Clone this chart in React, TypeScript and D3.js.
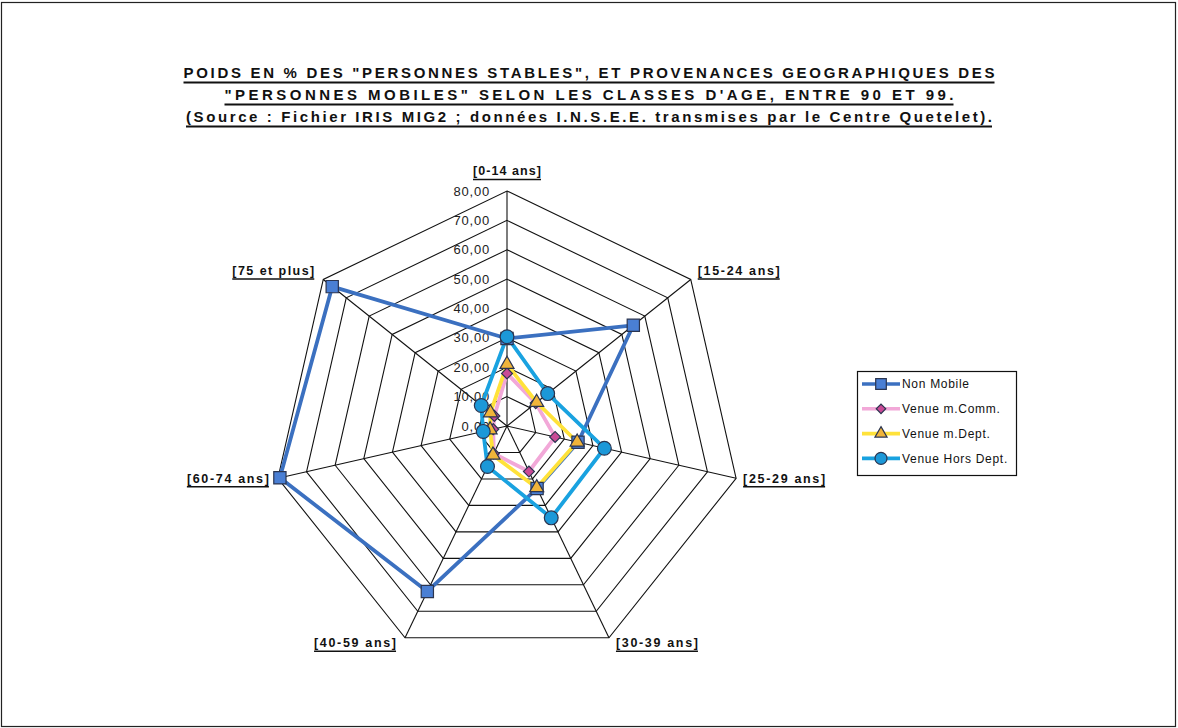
import * as d3 from 'd3';

const CATEGORIES = ['[0-14 ans]', '[15-24 ans]', '[25-29 ans]', '[30-39 ans]', '[40-59 ans]', '[60-74 ans]', '[75 et plus]'];
const NON_MOBILE = [29.8, 55.0, 24.8, 23.6, 62.5, 79.3, 76.1];
const VENUE_COMM = [17.9, 12.5, 16.8, 17.2, 10.4, 4.8, 5.5];
const VENUE_DEPT = [21.0, 12.9, 24.5, 23.3, 11.0, 5.9, 7.2];
const VENUE_HORS = [30.4, 17.7, 34.0, 34.7, 15.3, 8.3, 11.2];
const TICKS = [0, 10, 20, 30, 40, 50, 60, 70, 80];

const TITLE = [
  'POIDS EN % DES "PERSONNES STABLES", ET PROVENANCES GEOGRAPHIQUES DES',
  '"PERSONNES MOBILES" SELON LES CLASSES D\'AGE, ENTRE 90 ET 99.',
  '(Source : Fichier IRIS MIG2 ; données I.N.S.E.E. transmises par le Centre Quetelet).',
];

type Series = { name: string; values: number[]; line: string; fill: string; symbol: d3.SymbolType; size: number; rotate: number };

const SERIES: Series[] = [
  { name: 'Non Mobile', values: NON_MOBILE, line: '#3b70c0', fill: '#4a7fd4', symbol: d3.symbolSquare, size: 150, rotate: 0 },
  { name: 'Venue m.Comm.', values: VENUE_COMM, line: '#f2a8d8', fill: '#c94a96', symbol: d3.symbolSquare, size: 60, rotate: 45 },
  { name: 'Venue m.Dept.', values: VENUE_DEPT, line: '#ffe23a', fill: '#f0b43a', symbol: d3.symbolTriangle, size: 85, rotate: 0 },
  { name: 'Venue Hors Dept.', values: VENUE_HORS, line: '#19a2e0', fill: '#1c98d8', symbol: d3.symbolCircle, size: 150, rotate: 0 },
];

const W = 1178;
const H = 728;
const CX = 507;
const CY = 426;
const R = 235;
const FONT = '"Liberation Sans", Arial, sans-serif';

export default function App() {
  const angle = d3.scaleBand<string>().domain(CATEGORIES).range([0, 2 * Math.PI]).paddingInner(0).paddingOuter(0);
  const r = d3.scaleLinear().domain([0, 80]).range([0, R]);

  const radial = d3.lineRadial<number>()
    .angle((_: number, i: number) => angle(CATEGORIES[i]) ?? 0)
    .radius((d: number) => r(d))
    .curve(d3.curveLinearClosed);

  const pt = (cat: string, v: number): [number, number] => {
    const a = angle(cat) ?? 0;
    return [CX + r(v) * Math.sin(a), CY - r(v) * Math.cos(a)];
  };

  const titleWidths = [811, 729, 806];
  const titleY = [78, 100, 122];

  return (
    <svg width={W} height={H} style={{ position: 'absolute', left: 0, top: 0, background: '#fff' }} fontFamily={FONT}>
      <rect x={1.5} y={2.5} width={W - 4} height={H - 4} fill="none" stroke="#222" strokeWidth={1.2} />

      {TITLE.map((t, i) => {
        const w = titleWidths[i];
        return (
          <g key={i}>
            <text x={589} y={titleY[i]} textAnchor="middle" fontSize={15} fontWeight="bold" fill="#111"
              textLength={w} lengthAdjust="spacing">{t}</text>
            <line x1={589 - w / 2} x2={589 + w / 2} y1={titleY[i] + 4.5} y2={titleY[i] + 4.5} stroke="#111" strokeWidth={1.8} />
          </g>
        );
      })}

      <g transform={`translate(${CX},${CY})`}>
        {TICKS.filter(t => t > 0).map(t => (
          <path key={t} d={radial(CATEGORIES.map(() => t)) ?? ''} fill="none" stroke="#111" strokeWidth={1.1} />
        ))}
        {CATEGORIES.map(c => {
          const a = angle(c) ?? 0;
          return <line key={c} x1={0} y1={0} x2={R * Math.sin(a)} y2={-R * Math.cos(a)} stroke="#111" strokeWidth={1.1} />;
        })}
        {TICKS.map(t => (
          <text key={t} x={-17} y={-r(t)} dy="0.35em" textAnchor="end" fontSize={13} fill="#222" letterSpacing={0.8}>
            {t.toFixed(2).replace('.', ',')}
          </text>
        ))}
      </g>

      {CATEGORIES.map(c => {
        const a = angle(c) ?? 0;
        const s = Math.sin(a);
        const co = Math.cos(a);
        const [vx, vy] = pt(c, 80);
        let anchor = 'middle';
        let x = vx;
        if (s > 0.1) { anchor = 'start'; x = vx + 7; }
        else if (s < -0.1) { anchor = 'end'; x = vx - 9; }
        let y = vy;
        if (co > 0.9) y = vy - 20;
        else if (co > 0.5) y = vy - 9;
        else if (co < -0.5) y = vy + 5;
        const w = c === '[0-14 ans]' ? 68 : 82;
        const x0 = anchor === 'start' ? x : anchor === 'end' ? x - w : x - w / 2;
        return (
          <g key={c}>
            <text x={x} y={y} dy="0.35em" textAnchor={anchor} fontSize={12.5} fontWeight="bold" fill="#111"
              textLength={w} lengthAdjust="spacing">{c}</text>
            <line x1={x0} x2={x0 + w} y1={y + 8.5} y2={y + 8.5} stroke="#111" strokeWidth={1.6} />
          </g>
        );
      })}

      <g transform={`translate(${CX},${CY})`}>
        {SERIES.map(s => (
          <path key={s.name} d={radial(s.values) ?? ''} fill="none" stroke={s.line} strokeWidth={3.8} strokeLinejoin="round" />
        ))}
      </g>
      {SERIES.map(s => (
        <g key={s.name}>
          {s.values.map((v, i) => {
            const [x, y] = pt(CATEGORIES[i], v);
            return (
              <path key={i} transform={`translate(${x},${y}) rotate(${s.rotate})`} d={d3.symbol(s.symbol, s.size)() ?? ''}
                fill={s.fill} stroke="#2b3550" strokeWidth={1.2} />
            );
          })}
        </g>
      ))}

      <g>
        <rect x={857.5} y={371.5} width={159} height={104} fill="#fff" stroke="#111" strokeWidth={1.2} />
        {SERIES.map((s, i) => {
          const y = 384 + i * 24.8;
          return (
            <g key={s.name}>
              <line x1={862} x2={900} y1={y} y2={y} stroke={s.line} strokeWidth={3.6} />
              <path transform={`translate(881,${y}) rotate(${s.rotate})`} d={d3.symbol(s.symbol, s.size * 0.75)() ?? ''}
                fill={s.fill} stroke="#2b3550" strokeWidth={1.2} />
              <text x={902} y={y} dy="0.35em" fontSize={12} fill="#111" letterSpacing={0.7}>{s.name}</text>
            </g>
          );
        })}
      </g>
    </svg>
  );
}
